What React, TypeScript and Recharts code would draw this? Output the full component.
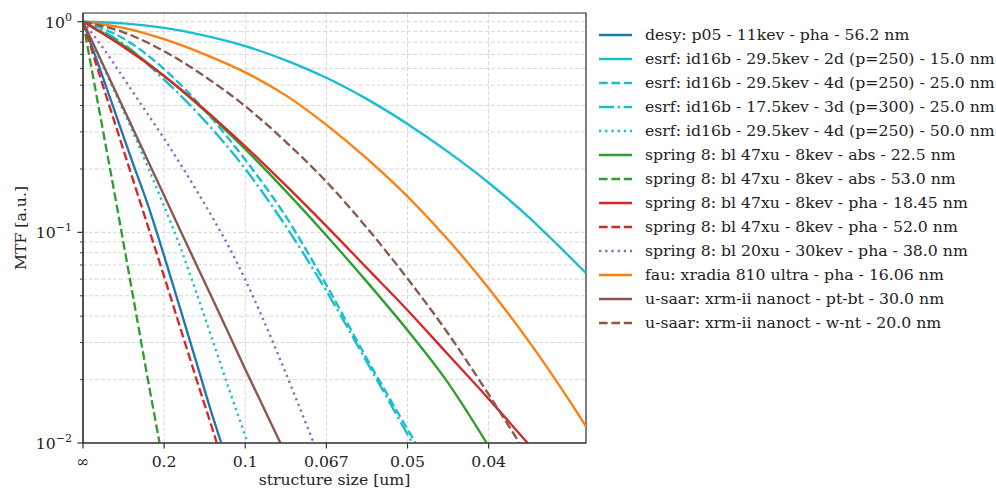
import React from 'react';
import { LineChart, Line, XAxis, YAxis, CartesianGrid, ReferenceArea, Label } from 'recharts';

type Pt = [number, number];

// [spatial frequency (1/um), MTF]
const desyP05: Pt[] = [[0, 1], [1, 0.61], [2, 0.367], [3, 0.221], [4, 0.135], [5, 0.0773], [6, 0.0432], [7, 0.024], [8, 0.0133], [8.52, 0.01]];
const esrf2d15: Pt[] = [[0, 1], [2.5, 0.982], [5, 0.935], [7.5, 0.859], [10, 0.766], [12.5, 0.656], [15, 0.542], [17.5, 0.429], [20, 0.327], [22.5, 0.241], [25, 0.172], [27.5, 0.1175], [29.25, 0.0872], [31, 0.064]];
const esrf4d25: Pt[] = [[0, 1], [2.5, 0.832], [5, 0.596], [7.5, 0.38], [10, 0.221], [12.5, 0.119], [15, 0.0562], [17.5, 0.0251], [20.5, 0.01]];
const esrf3d25: Pt[] = [[0, 1], [2.5, 0.785], [5, 0.531], [7.5, 0.339], [10, 0.2], [12.5, 0.107], [15, 0.0527], [17.5, 0.0242], [20.3, 0.01]];
const esrf4d50: Pt[] = [[0, 1], [1, 0.676], [2, 0.457], [3, 0.309], [4, 0.204], [5, 0.133], [6, 0.0851], [7, 0.0513], [8, 0.0305], [9, 0.018], [10.16, 0.01]];
const spAbs225: Pt[] = [[0, 1], [2.5, 0.771], [5, 0.552], [7.5, 0.378], [10, 0.248], [12.5, 0.157], [15, 0.0966], [17.5, 0.0582], [20, 0.0343], [22.5, 0.0193], [24.88, 0.01]];
const spAbs530: Pt[] = [[0, 1], [1, 0.38], [2, 0.145], [3, 0.054], [4, 0.02], [4.72, 0.01]];
const spPha1845: Pt[] = [[0, 1], [2.5, 0.759], [5, 0.553], [7.5, 0.383], [10, 0.256], [12.5, 0.167], [15, 0.107], [17.5, 0.0676], [20, 0.0427], [22.5, 0.0263], [25, 0.0162], [27.4, 0.01]];
const spPha520: Pt[] = [[0, 1], [1, 0.566], [2, 0.324], [3, 0.186], [4, 0.107], [5, 0.0617], [6, 0.0351], [7, 0.02], [8, 0.0115], [8.25, 0.01]];
const sp20xu380: Pt[] = [[0, 1], [1, 0.794], [2, 0.617], [3, 0.473], [4, 0.363], [5, 0.279], [6, 0.211], [7, 0.158], [8, 0.117], [9, 0.0851], [10, 0.0596], [11, 0.0403], [12, 0.0266], [13, 0.0172], [14.22, 0.01]];
const fau1606: Pt[] = [[0, 1], [2.5, 0.935], [5, 0.826], [7.5, 0.7], [10, 0.575], [12.5, 0.447], [15, 0.324], [17.5, 0.224], [20, 0.148], [22.5, 0.0923], [25, 0.0543], [27.5, 0.0302], [30, 0.0158], [31, 0.012]];
const saarPtBt: Pt[] = [[0, 1], [2, 0.468], [4, 0.219], [6, 0.102], [8, 0.048], [10, 0.0224], [12.17, 0.01]];
const saarWNt: Pt[] = [[0, 1], [2.5, 0.891], [5, 0.724], [7.5, 0.55], [10, 0.397], [12.5, 0.269], [15, 0.174], [17.5, 0.105], [20, 0.0603], [22.5, 0.0331], [25, 0.017], [26.9, 0.01]];

const xTicks = [0, 5, 10, 15, 20, 25];
const xTickLabels = ['∞', '0.2', '0.1', '0.067', '0.05', '0.04'];
const yMajorTicks = [0.01, 0.1, 1];
const yMajorExp = ['−2', '−1', '0'];
const yMinorTicks = [0.02, 0.03, 0.04, 0.05, 0.06, 0.07, 0.08, 0.09, 0.2, 0.3, 0.4, 0.5, 0.6, 0.7, 0.8, 0.9];

const BLUE = '#1f77b4';
const ORANGE = '#ff7f0e';
const GREEN = '#2ca02c';
const RED = '#d62728';
const PURPLE = '#9467bd';
const BROWN = '#8c564b';
const CYAN = '#17becf';

const LW = 2.34;
const DASHED = '8.7 3.7';
const DOTTED = '2.3 3.9';
const DASHDOT = '15 3.7 2.3 3.7';

const FONT = '"DejaVu Serif", serif';
const FS = 15.7;
const TXT = '#222';

const series = [
  { name: 'desy: p05 - 11kev - pha - 56.2 nm', pts: desyP05, color: BLUE, dash: undefined },
  { name: 'esrf: id16b - 29.5kev - 2d (p=250) - 15.0 nm', pts: esrf2d15, color: CYAN, dash: undefined },
  { name: 'esrf: id16b - 29.5kev - 4d (p=250) - 25.0 nm', pts: esrf4d25, color: CYAN, dash: DASHED },
  { name: 'esrf: id16b - 17.5kev - 3d (p=300) - 25.0 nm', pts: esrf3d25, color: CYAN, dash: DASHDOT },
  { name: 'esrf: id16b - 29.5kev - 4d (p=250) - 50.0 nm', pts: esrf4d50, color: CYAN, dash: DOTTED },
  { name: 'spring 8: bl 47xu - 8kev - abs - 22.5 nm', pts: spAbs225, color: GREEN, dash: undefined },
  { name: 'spring 8: bl 47xu - 8kev - abs - 53.0 nm', pts: spAbs530, color: GREEN, dash: DASHED },
  { name: 'spring 8: bl 47xu - 8kev - pha - 18.45 nm', pts: spPha1845, color: RED, dash: undefined },
  { name: 'spring 8: bl 47xu - 8kev - pha - 52.0 nm', pts: spPha520, color: RED, dash: DASHED },
  { name: 'spring 8: bl 20xu - 30kev - pha - 38.0 nm', pts: sp20xu380, color: PURPLE, dash: DOTTED },
  { name: 'fau: xradia 810 ultra - pha - 16.06 nm', pts: fau1606, color: ORANGE, dash: undefined },
  { name: 'u-saar: xrm-ii nanoct - pt-bt - 30.0 nm', pts: saarPtBt, color: BROWN, dash: undefined },
  { name: 'u-saar: xrm-ii nanoct - w-nt - 20.0 nm', pts: saarWNt, color: BROWN, dash: DASHED },
];

const XTick = (props: any) => {
  const { x, y, payload } = props;
  const i = xTicks.indexOf(payload.value);
  return (
    <g>
      <line x1={x} x2={x} y1={y} y2={y + 5.5} stroke="#333" strokeWidth={1.2} />
      <text x={x} y={y + 24} textAnchor="middle" fontFamily={FONT} fontSize={FS} fill={TXT}>
        {xTickLabels[i]}
      </text>
    </g>
  );
};

const YTick = (props: any) => {
  const { x, y, payload } = props;
  const i = yMajorTicks.indexOf(payload.value);
  const major = i >= 0;
  return (
    <g>
      <line x1={x} x2={x - (major ? 5.5 : 3)} y1={y} y2={y} stroke="#333" strokeWidth={major ? 1.2 : 0.9} />
      {major && (
        <text x={x - 11} y={y + 6} textAnchor="end" fontFamily={FONT} fontSize={FS} fill={TXT}>
          10<tspan dy={-7} fontSize={11}>{yMajorExp[i]}</tspan>
        </text>
      )}
    </g>
  );
};

const renderYLabel = () => (
  <text x={20} y={228} transform="rotate(-90 20 228)" textAnchor="middle" dominantBaseline="central"
    fontFamily={FONT} fontSize={FS} fill={TXT}>
    MTF [a.u.]
  </text>
);

const renderXLabel = () => (
  <text x={334.5} y={485} textAnchor="middle" fontFamily={FONT} fontSize={FS} fill={TXT}>
    structure size [um]
  </text>
);

export default function App() {
  return (
    <div style={{ position: 'absolute', left: 0, top: 0, width: 996, height: 489, background: '#fff', overflow: 'hidden' }}>
      <LineChart width={996} height={489} margin={{ top: 13, right: 410, bottom: 0, left: 0 }}>
        <CartesianGrid stroke="#d4d4d4" strokeWidth={0.9} strokeDasharray="4 2" />
        <XAxis
          dataKey="f"
          type="number"
          domain={[0, 31]}
          allowDataOverflow
          ticks={xTicks}
          interval={0}
          height={46}
          tickSize={0}
          tickMargin={0}
          tickLine={false}
          tick={<XTick />}
          axisLine={{ stroke: '#333', strokeWidth: 1.2 }}
        >
          <Label content={renderXLabel} />
        </XAxis>
        <YAxis
          type="number"
          scale="log"
          domain={[0.01, 1.1]}
          allowDataOverflow
          ticks={[...yMinorTicks, ...yMajorTicks].sort((a, b) => a - b)}
          interval={0}
          width={83}
          tickSize={0}
          tickMargin={0}
          tickLine={false}
          tick={<YTick />}
          axisLine={{ stroke: '#333', strokeWidth: 1.2 }}
        >
          <Label content={renderYLabel} />
        </YAxis>
        {series.map((s) => (
          <Line
            key={s.name}
            data={s.pts.map(([f, v]) => ({ f, v }))}
            dataKey="v"
            type="monotone"
            stroke={s.color}
            strokeWidth={LW}
            strokeDasharray={s.dash}
            dot={false}
            activeDot={false}
            isAnimationActive={false}
          />
        ))}
        <ReferenceArea x1={0} x2={31} y1={0.01} y2={1.1} fill="none" stroke="#333" strokeWidth={1.2} ifOverflow="visible" />
      </LineChart>
      <div style={{ position: 'absolute', left: 599, top: 23, fontFamily: FONT, fontSize: FS, color: TXT }}>
        {series.map((s) => (
          <div key={s.name} style={{ height: 23.97, display: 'flex', alignItems: 'center', whiteSpace: 'nowrap' }}>
            <svg width={33} height={10} style={{ marginRight: 13, flex: 'none' }}>
              <line x1={0} x2={33} y1={5} y2={5} stroke={s.color} strokeWidth={LW} strokeDasharray={s.dash} />
            </svg>
            <span>{s.name}</span>
          </div>
        ))}
      </div>
    </div>
  );
}
